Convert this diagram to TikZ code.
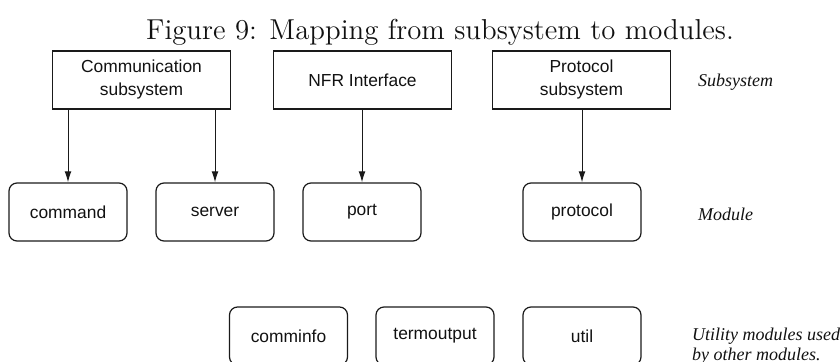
\documentclass[tikz,border=0pt]{standalone}
\usepackage{fontspec}
\usepackage{xcolor}
\usepackage{tikz}
\usetikzlibrary{positioning,arrows.meta}
\newfontfamily\boxfont{Liberation Sans}
\newfontfamily\notefont{Liberation Serif}
\definecolor{MAPline}{HTML}{1A1A1A}
\definecolor{MAPink}{HTML}{111111}

\begin{document}
\begin{tikzpicture}[x=0.5pt, y=-0.5pt,
  subsys/.style={draw=MAPline, line width=0.6pt, minimum width=89pt, minimum height=29pt, inner sep=0pt,
    align=center, text=MAPink, font=\boxfont\fontsize{8.7}{11.5}\selectfont},
  module/.style={subsys, rounded corners=4pt, minimum width=59pt},
  levellabel/.style={font=\notefont\itshape\fontsize{9}{10}\selectfont, anchor=west, align=left, text=MAPink},
  maparrow/.style={draw=MAPline, line width=0.5pt, -{Latex[length=5.5pt, width=3.4pt]}}]
\useasboundingbox (0,0) rectangle (840,362);
\clip (0,0) rectangle (840,362);
\node[font=\fontsize{14.4}{17}\selectfont, anchor=base, text=MAPink] (title) at (440,40) {Figure 9: Mapping from subsystem to modules.};
\node[subsys] (commsub)  at (141.5,80) {Communication\\subsystem};
\node[subsys] (nfrsub)   at (362.5,80) {NFR Interface};
\node[subsys] (protosub) at (581.5,80) {Protocol\\subsystem};
\node[module] (command)  at (68,212)  {command};
\node[module] (server)   at (215,212) {server};
\node[module] (port)     at (362,212) {port};
\node[module] (protocol) at (582,212) {protocol};
\node[module] (comminfo)   at (288.5,336) {comminfo};
\node[module] (termoutput) at (435,336)   {termoutput};
\node[module] (util)       at (582,336)   {util};
\node[levellabel] (sublabel)  at (691,82)    {Subsystem};
\node[levellabel] (modlabel)  at (691,214)   {Module};
\node[levellabel] (utillabel) at (685,346.5) {Utility modules used\\by other modules.};
\draw[maparrow] (commsub.south -| command.north) -- (command.north);
\draw[maparrow] (commsub.south -| server.north) -- (server.north);
\draw[maparrow] (nfrsub.south -| port.north) -- (port.north);
\draw[maparrow] (protosub.south -| protocol.north) -- (protocol.north);
\end{tikzpicture}
\end{document}
